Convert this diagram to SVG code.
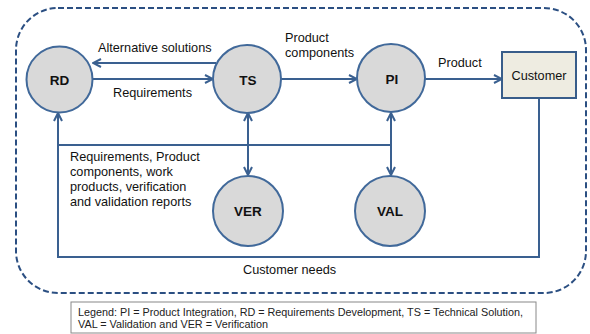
<svg xmlns="http://www.w3.org/2000/svg" width="590" height="334" viewBox="0 0 590 334">
<style>
.ln{fill:none;stroke:#3a6090;stroke-width:2}
.nd{fill:#d9d9d9;stroke:#41699a;stroke-width:2}
.lb{font-family:"Liberation Sans",Arial,sans-serif;font-size:12.7px;fill:#111}
.nl{font-family:"Liberation Sans",Arial,sans-serif;font-size:13.5px;font-weight:bold;fill:#111;text-anchor:middle}
.lg{font-family:"Liberation Sans",Arial,sans-serif;font-size:11px;fill:#222}
</style>
<defs>
<marker id="ar" viewBox="0 0 10 10" refX="9" refY="5" markerWidth="10" markerHeight="10" markerUnits="userSpaceOnUse" orient="auto-start-reverse">
<path d="M1,1 L9,5 L1,9" fill="none" stroke="#3a6090" stroke-width="2"/>
</marker>
</defs>
<rect x="16" y="8" width="570" height="285" rx="42" ry="42" fill="none" stroke="#2b4f82" stroke-width="2" stroke-dasharray="6,3"/>
<g id="connectors">
<path class="ln" d="M216,63 L93,63" marker-end="url(#ar)"/>
<path class="ln" d="M93,79 L213,79" marker-end="url(#ar)"/>
<path class="ln" d="M281,79 L357,79" marker-end="url(#ar)"/>
<path class="ln" d="M425,79 L502,79" marker-end="url(#ar)"/>
<path class="ln" d="M539,98 L539,257 L58,257 L58,113" marker-end="url(#ar)"/>
<path class="ln" d="M58,145 L391,145"/>
<path class="ln" d="M248,113 L248,175" marker-start="url(#ar)" marker-end="url(#ar)"/>
<path class="ln" d="M391,113 L391,175" marker-start="url(#ar)" marker-end="url(#ar)"/>
<text class="lb" x="98" y="52">Alternative solutions</text>
<text class="lb" x="113" y="97">Requirements</text>
<text class="lb" x="285" y="42">Product</text>
<text class="lb" x="285" y="57">components</text>
<text class="lb" x="438" y="67">Product</text>
<text class="lb" x="70" y="161">Requirements, Product</text>
<text class="lb" x="70" y="176">components, work</text>
<text class="lb" x="70" y="191">products, verification</text>
<text class="lb" x="70" y="206">and validation reports</text>
<text class="lb" x="243" y="274">Customer needs</text>
</g>
<g id="RD"><circle class="nd" cx="59.5" cy="79.5" r="33"/><text class="nl" x="59.5" y="85">RD</text></g>
<g id="TS"><circle class="nd" cx="247" cy="79" r="34"/><text class="nl" x="248" y="85">TS</text></g>
<g id="PI"><circle class="nd" cx="391" cy="78" r="34"/><text class="nl" x="392" y="84">PI</text></g>
<g id="Customer"><rect x="502" y="52" width="74" height="46" fill="#eeece1" stroke="#385d8a" stroke-width="2"/><text class="lb" x="539" y="80" text-anchor="middle">Customer</text></g>
<g id="VER"><circle class="nd" cx="248" cy="211" r="35"/><text class="nl" x="248" y="216">VER</text></g>
<g id="VAL"><circle class="nd" cx="390" cy="211" r="35"/><text class="nl" x="390" y="216">VAL</text></g>
<g id="legend">
<rect x="71" y="302" width="465" height="31" fill="#fff" stroke="#888" stroke-width="1"/>
<text class="lg" x="78" y="316" textLength="445" lengthAdjust="spacingAndGlyphs">Legend: PI = Product Integration,  RD = Requirements Development, TS = Technical Solution,</text>
<text class="lg" x="78" y="328" textLength="190" lengthAdjust="spacingAndGlyphs">VAL = Validation and VER = Verification</text>
</g>
</svg>
